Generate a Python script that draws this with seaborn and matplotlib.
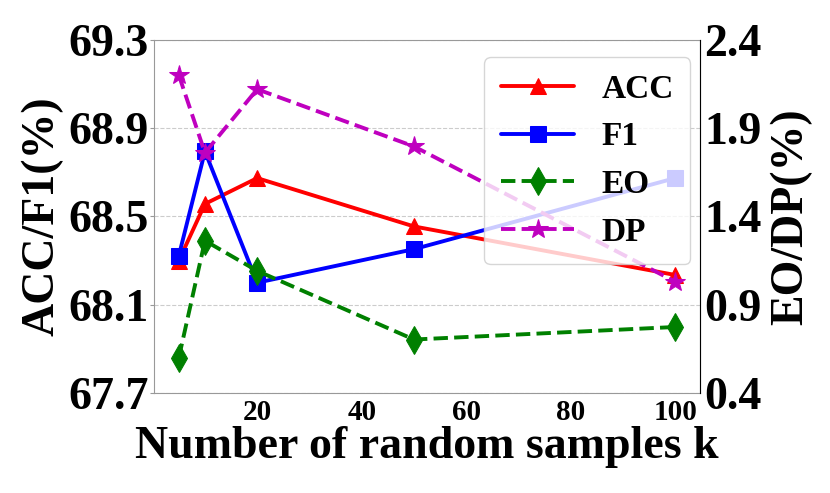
import matplotlib
matplotlib.use("Agg")
import matplotlib.pyplot as plt
import seaborn as sns

# values
k = [5, 10, 20, 50, 100]
acc = [68.30, 68.557, 68.674, 68.455, 68.235]
f1 = [68.322, 68.795, 68.20, 68.352, 68.674]
eo = [0.60, 1.263, 1.092, 0.703, 0.774]
dp = [2.201, 1.761, 2.121, 1.797, 1.031]

left_ticks = [67.7, 68.1, 68.5, 68.9, 69.3]
right_ticks = [0.4, 0.9, 1.4, 1.9, 2.4]
x_ticks = [20, 40, 60, 80, 100]

sns.set_style("white")
plt.rcParams['font.family'] = ['Liberation Serif', 'DejaVu Serif']
plt.rcParams['font.weight'] = 'bold'
plt.rcParams['text.color'] = 'black'
plt.rcParams['axes.labelcolor'] = 'black'

fig, ax = plt.subplots(figsize=(8.3, 4.93), dpi=100)
fig.subplots_adjust(left=154/830, right=700/830, top=1-40/493, bottom=1-393/493)
ax2 = ax.twinx()

lw = 2.8
ms = 12
sns.lineplot(x=k, y=acc, ax=ax, color='red', marker='^', markersize=ms,
             markeredgecolor='red', linewidth=lw, legend=False)
sns.lineplot(x=k, y=f1, ax=ax, color='blue', marker='s', markersize=ms,
             markeredgecolor='blue', linewidth=lw, legend=False)
sns.lineplot(x=k, y=eo, ax=ax2, color='green', marker='d', markersize=ms+2,
             markeredgecolor='green', linewidth=lw, linestyle='--', legend=False)
sns.lineplot(x=k, y=dp, ax=ax2, color='m', marker='*', markersize=ms+3,
             markeredgecolor='m', linewidth=lw, linestyle='--', legend=False)

ax.set_ylim(67.7, 69.3)
ax.set_yticks(left_ticks)
ax.set_yticklabels([f"{v:.1f}" for v in left_ticks], fontsize=33, fontweight='bold')
ax2.set_ylim(0.4, 2.4)
ax2.set_yticks(right_ticks)
ax2.set_yticklabels([f"{v:.1f}" for v in right_ticks], fontsize=33, fontweight='bold')
ax.set_xticks(x_ticks)
ax.set_xticklabels([str(v) for v in x_ticks], fontsize=21, fontweight='bold')

ax.set_xlabel("Number of random samples k", fontsize=33, fontweight='bold', labelpad=0)
ax.set_ylabel("ACC/F1(%)", fontsize=33, fontweight='bold', labelpad=3)
ax2.set_ylabel("EO/DP(%)", fontsize=33, fontweight='bold', labelpad=6)

ax.yaxis.grid(True, linestyle='--', color='#cccccc', linewidth=0.8)
ax.set_axisbelow(True)

for s in ax.spines.values():
    s.set_color('#999999')
for name, s in ax2.spines.items():
    s.set_visible(name == 'right')
ax2.spines['right'].set_color('black')

ax.tick_params(axis='x', length=3, color='#999999', labelcolor='black', pad=1)
ax.tick_params(axis='y', length=3, color='#999999', labelcolor='black', pad=1)
ax2.tick_params(axis='y', length=0, labelcolor='black', pad=3)

handles = ax.get_lines()[:2] + ax2.get_lines()[:2]
leg = ax2.legend(handles, ["ACC", "F1", "EO", "DP"], loc='upper right',
                 bbox_to_anchor=(0.982, 0.952), borderaxespad=0,
                 prop={'size': 24, 'weight': 'bold'},
                 handlelength=2.2, labelspacing=0.5, framealpha=0.8, borderpad=0.5)

fig.savefig("out.png", dpi=100)
